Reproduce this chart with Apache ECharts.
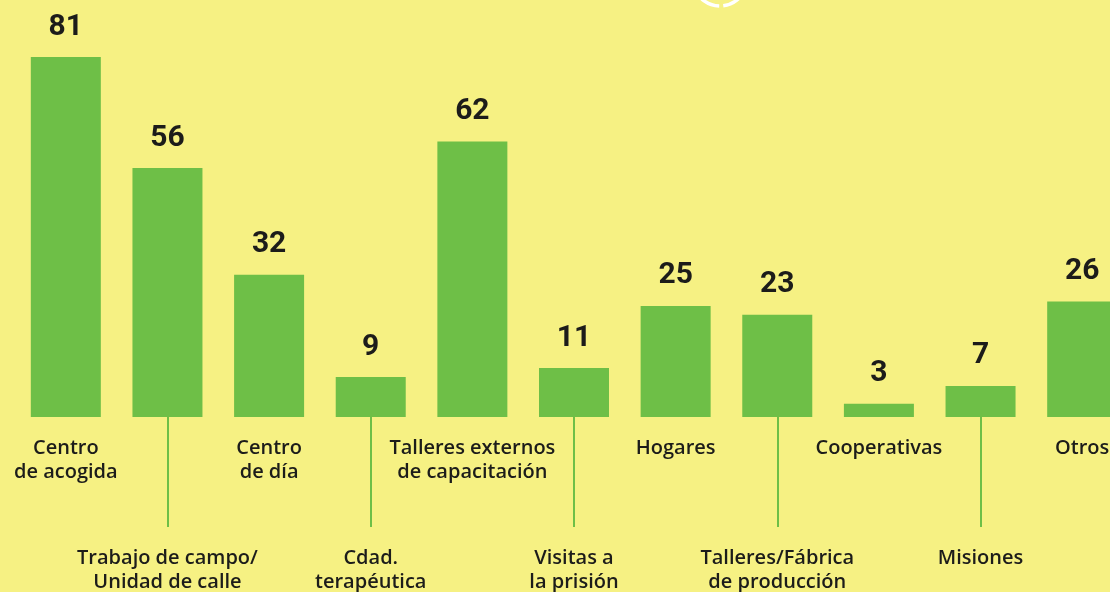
<!DOCTYPE html>
<html>
<head>
<meta charset="utf-8">
<script src="https://cdn.jsdelivr.net/npm/echarts@6/dist/echarts.min.js"></script>
<style>
html,body{margin:0;padding:0;background:#f6f183;}
#chart{width:1110px;height:592px;}
</style>
</head>
<body>
<div id="chart"></div>
<script>
const categories = [
  'Centro\nde acogida',
  'Trabajo de campo/\nUnidad de calle',
  'Centro\nde día',
  'Cdad.\nterapéutica',
  'Talleres externos\nde capacitación',
  'Visitas a\nla prisión',
  'Hogares',
  'Talleres/Fábrica\nde producción',
  'Cooperativas',
  'Misiones',
  'Otros'
];
const values = [81, 56, 32, 9, 62, 11, 25, 23, 3, 7, 26];

const green = '#6ebf47';
const textColor = '#1c1c1a';
const labelFont = {
  color: textColor,
  fontFamily: 'Open Sans',
  fontWeight: 600,
  fontSize: 20,
  lineHeight: 24
};

const chart = echarts.init(document.getElementById('chart'));
chart.setOption({
  backgroundColor: '#f6f183',
  animation: false,
  grid: {left: 15, top: 17, width: 1118, bottom: 175, outerBoundsMode: 'none', containLabel: false},
  xAxis: [
    {
      type: 'category',
      data: categories,
      position: 'bottom',
      axisLine: {show: false},
      axisTick: {show: false},
      axisLabel: Object.assign({
        interval: function (i) { return i % 2 === 0; },
        margin: 19
      }, labelFont)
    },
    {
      type: 'category',
      data: categories,
      position: 'bottom',
      axisLine: {show: false},
      axisTick: {
        show: true,
        alignWithLabel: true,
        interval: function (i) { return i % 2 === 1; },
        length: 110,
        lineStyle: {color: green, width: 2}
      },
      axisLabel: Object.assign({
        interval: function (i) { return i % 2 === 1; },
        margin: 129
      }, labelFont)
    }
  ],
  yAxis: {
    type: 'value',
    min: 0,
    max: 90,
    show: false
  },
  graphic: [
    {
      type: 'arc',
      shape: {cx: 720, cy: -21, r: 27, startAngle: 0.35, endAngle: 1.45},
      style: {stroke: '#ffffff', lineWidth: 3.5, fill: null}
    },
    {
      type: 'arc',
      shape: {cx: 720, cy: -21, r: 27, startAngle: 1.6, endAngle: 2.8},
      style: {stroke: '#ffffff', lineWidth: 3.5, fill: null}
    }
  ],
  series: [{
    type: 'bar',
    data: values,
    barWidth: 70,
    itemStyle: {color: green},
    label: {
      show: true,
      position: 'top',
      distance: 15,
      color: textColor,
      fontFamily: 'Roboto',
      fontWeight: 'bold',
      fontSize: 30
    }
  }]
});
</script>
</body>
</html>
